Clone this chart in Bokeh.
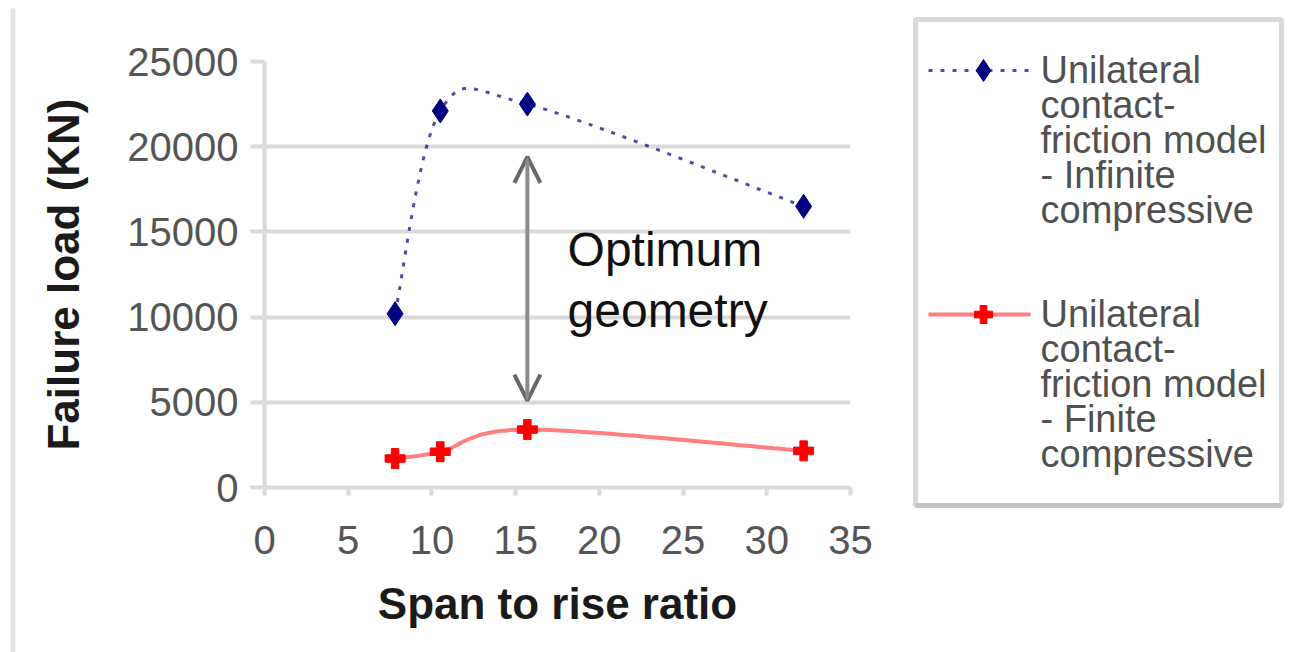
import numpy as np
from bokeh.plotting import figure
from bokeh.layouts import row
from bokeh.models import Arrow, OpenHead, Label, FixedTicker, Range1d
from bokeh.core.properties import value
from bokeh.embed import file_html
from bokeh.resources import INLINE

# ---- data ----
span_ratio = [7.8, 10.5, 15.7, 32.2]
load_infinite = [10200, 22100, 22500, 16500]
load_finite = [1700, 2100, 3400, 2150]
series_names = ["Unilateral\ncontact-\nfriction model\n- Infinite\ncompressive",
                "Unilateral\ncontact-\nfriction model\n- Finite\ncompressive"]
series_colors = ["#000080", "#ff0000"]
x_ticks = [0, 5, 10, 15, 20, 25, 30, 35]
x_tick_labels = ["0", "5", "10", "15", "20", "25", "30", "35"]
y_ticks = [0, 5000, 10000, 15000, 20000, 25000]
y_tick_labels = ["0", "5000", "10000", "15000", "20000", "25000"]
arrow_x = 15.7
arrow_y = [5100, 19400]
note_text = "Optimum\ngeometry"

FONT = "Liberation Sans"
H = 652


def smooth(xs, ys, n=40):
    """Catmull-Rom spline through the points (like a smoothed line)."""
    P = np.column_stack([xs, ys]).astype(float)
    ext = np.vstack([P[0], P, P[-1]])
    out = []
    t = np.linspace(0, 1, n)
    for i in range(1, len(ext) - 2):
        p0, p1, p2, p3 = ext[i - 1], ext[i], ext[i + 1], ext[i + 2]
        c1 = p1 + (p2 - p0) / 6.0
        c2 = p2 - (p3 - p1) / 6.0
        seg = (((1 - t) ** 3)[:, None] * p1 + (3 * (1 - t) ** 2 * t)[:, None] * c1
               + (3 * (1 - t) * t ** 2)[:, None] * c2 + (t ** 3)[:, None] * p2)
        out.append(seg if i == 1 else seg[1:])
    s = np.vstack(out)
    return s[:, 0], s[:, 1]


def blank(width):
    f = figure(width=width, height=H, x_range=Range1d(0, width), y_range=Range1d(H, 0),
               output_backend="svg", toolbar_location=None,
               x_axis_location=None, y_axis_location=None,
               min_border=0, min_border_left=0, min_border_right=0,
               min_border_top=0, min_border_bottom=0, frame_align=False)
    f.grid.visible = False
    f.outline_line_color = None
    f.background_fill_color = "white"
    f.border_fill_color = "white"
    return f


# left strip: the outer chart border
strip = blank(16)
strip.quad(left=[10], right=[15], top=[8], bottom=[H], fill_color="#e3e3e3",
           line_color=None)

# ---- main chart ----
p = figure(width=864, height=H, x_range=Range1d(0, 35), y_range=Range1d(0, 25000),
           output_backend="svg", toolbar_location=None,
           min_border_left=248, min_border_right=30, min_border_top=61,
           min_border_bottom=165, frame_align=False)
p.outline_line_color = None
p.background_fill_color = "white"
p.border_fill_color = "white"

p.xgrid.visible = False
p.ygrid.grid_line_color = "#d9d9d9"
p.ygrid.grid_line_width = 4

p.xaxis.ticker = FixedTicker(ticks=x_ticks)
p.yaxis.ticker = FixedTicker(ticks=y_ticks)
p.xaxis.major_label_overrides = {t: l for t, l in zip(x_ticks, x_tick_labels)}
p.yaxis.major_label_overrides = {t: l for t, l in zip(y_ticks, y_tick_labels)}

for ax in (p.xaxis, p.yaxis):
    ax.axis_line_color = "#d9d9d9"
    ax.axis_line_width = 4
    ax.major_tick_line_color = "#d9d9d9"
    ax.major_tick_line_width = 4
    ax.major_tick_in = 0
    ax.minor_tick_line_color = None
    ax.major_label_text_font = FONT
    ax.major_label_text_font_size = "40px"
    ax.major_label_text_color = "#555555"
    ax.axis_label_text_font = FONT
    ax.axis_label_text_font_size = "44px"
    ax.axis_label_text_font_style = "bold"
    ax.axis_label_text_color = "#1a1a1a"

p.xaxis.major_tick_out = 8
p.yaxis.major_tick_out = 14
p.xaxis.major_label_standoff = 30
p.yaxis.major_label_standoff = 12
p.xaxis.axis_label = "Span to rise ratio"
p.yaxis.axis_label = "Failure load (KN)"
p.xaxis.axis_label_standoff = 22
p.yaxis.axis_label_standoff = 36

# series 1: dotted navy smoothed line
bx, by = smooth(span_ratio, load_infinite)
p.line(bx, by, line_color=series_colors[0], line_width=3, line_dash="4 8", line_alpha=0.7)
p.scatter(span_ratio, load_infinite, marker="diamond", size=24,
          fill_color=series_colors[0], line_color=series_colors[0])

# series 2: solid red smoothed line
rx, ry = smooth(span_ratio, load_finite)
p.line(rx, ry, line_color=series_colors[1], line_width=4, line_alpha=0.5)
p.scatter(span_ratio, load_finite, marker="plus", size=20,
          fill_color=series_colors[1], line_color=series_colors[1])

# annotation
p.add_layout(Arrow(x_start=arrow_x, y_start=arrow_y[0], x_end=arrow_x, y_end=arrow_y[1],
                   line_color="#8c8c8c", line_width=4,
                   start=OpenHead(size=26, line_color="#666666", line_width=4),
                   end=OpenHead(size=26, line_color="#666666", line_width=4)))
p.add_layout(Label(x=18.1, y=15500, text=note_text, text_font=FONT,
                   text_font_size="48px", text_color="#111111",
                   text_baseline="top", text_line_height=1.15))

# ---- legend panel (pixel coordinates, y downward) ----
lg = blank(433)
lg.quad(left=[35], right=[401], top=[19], bottom=[505], fill_color="white",
        line_color="#d9d9d9", line_width=5)
lg.segment(x0=[35], y0=[505], x1=[401], y1=[505], line_color="#c4c4c4", line_width=5)

key_y = [70, 314]
dashes = ["4 8", "solid"]
markers = ["diamond", "plus"]
sizes = [22, 18]
alphas = [0.7, 0.5]
for i in range(2):
    lg.line([48, 150], [key_y[i], key_y[i]], line_color=series_colors[i],
            line_width=3 if i == 0 else 4, line_dash=dashes[i], line_alpha=alphas[i])
    lg.scatter([103], [key_y[i]], marker=markers[i], size=sizes[i],
               fill_color=series_colors[i], line_color=series_colors[i])
    lines = series_names[i].split("\n")
    base = key_y[i] - 1
    lg.text(x=[160] * len(lines), y=[base + 35 * k for k in range(len(lines))],
            text=lines, text_font=value(FONT), text_font_size="38px",
            text_color="#505050", text_baseline="alphabetic", text_align="left")

layout = row(strip, p, lg, spacing=0)
open("out.html", "w").write(file_html(layout, INLINE))
